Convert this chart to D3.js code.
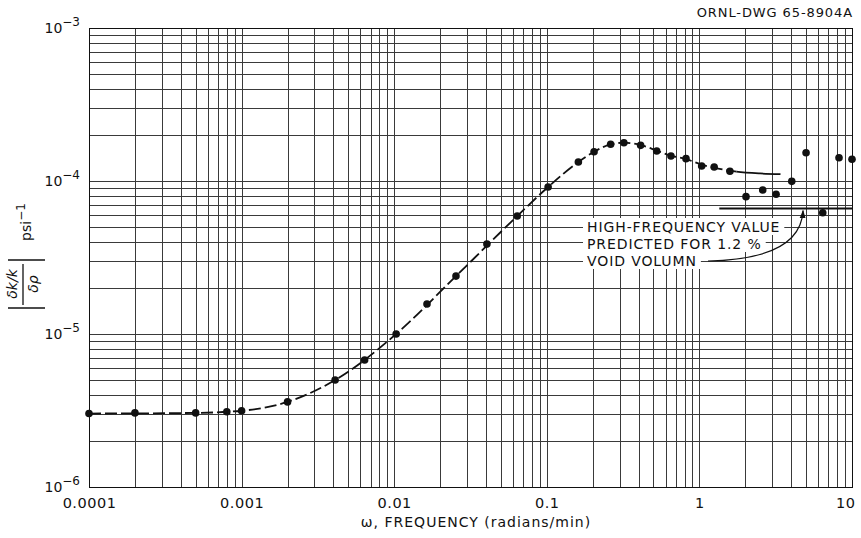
<!DOCTYPE html>
<html>
<head>
<meta charset="utf-8">
<script src="https://cdn.jsdelivr.net/npm/d3@7"></script>
<style>
  html, body { margin: 0; padding: 0; background: #fff; }
  svg { display: block; font-family: "DejaVu Sans", sans-serif; }
</style>
</head>
<body>
<svg id="chart" width="861" height="538"></svg>
<script>
// ---------------- data ----------------
const omega = [1e-4, 2e-4, 5e-4, 8e-4, 1e-3, 2e-3, 4.1e-3, 6.4e-3, 0.0103, 0.0164, 0.0254, 0.0405, 0.064, 0.102,
  0.161, 0.204, 0.262, 0.32, 0.412, 0.525, 0.651, 0.817, 1.035, 1.25, 1.585,
  2.02, 2.6, 3.18, 4.03, 5.0, 6.43, 8.22, 10.0];
const response = [3.02e-6, 3.05e-6, 3.05e-6, 3.1e-6, 3.15e-6, 3.6e-6, 5.0e-6, 6.76e-6, 1.0e-5, 1.57e-5, 2.39e-5, 3.87e-5, 5.9e-5, 9.14e-5,
  1.33e-4, 1.553e-4, 1.738e-4, 1.78e-4, 1.71e-4, 1.57e-4, 1.456e-4, 1.40e-4, 1.253e-4, 1.235e-4, 1.157e-4,
  7.9e-5, 8.73e-5, 8.19e-5, 9.95e-5, 1.53e-4, 6.2e-5, 1.42e-4, 1.387e-4];

// faired curve drawn through the measurements
const curveOmega = [1e-4, 5e-4, 1e-3, 2e-3, 4.1e-3, 0.0103, 0.0254, 0.064, 0.102, 0.161, 0.204, 0.262, 0.32, 0.412,
  0.525, 0.651, 0.817, 1.035, 1.3, 1.75, 2.5, 3.4];
const curveValue = [3.02e-6, 3.05e-6, 3.15e-6, 3.6e-6, 5.0e-6, 1.0e-5, 2.39e-5, 5.9e-5, 9.14e-5, 1.33e-4, 1.553e-4, 1.735e-4, 1.78e-4, 1.72e-4,
  1.58e-4, 1.465e-4, 1.39e-4, 1.28e-4, 1.21e-4, 1.15e-4, 1.12e-4, 1.11e-4];
const dashedUntil = 1.75;   // curve is dashed below this frequency, solid above

// predicted high-frequency value
const hfValue = 6.6e-5;
const hfRange = [1.35, 10];

const xTickValues = [1e-4, 1e-3, 1e-2, 1e-1, 1, 10];
const xTickLabels = ["0.0001", "0.001", "0.01", "0.1", "1", "10"];
const yTickValues = [1e-3, 1e-4, 1e-5, 1e-6];
const yTickExponents = ["\u22123", "\u22124", "\u22125", "\u22126"];

const noteLines = ["HIGH-FREQUENCY VALUE", "PREDICTED FOR 1.2 %", "VOID VOLUMN"];
const drawingNumber = "ORNL-DWG 65-8904A";
const xTitle = "\u03c9, FREQUENCY (radians/min)";

// ---------------- chart ----------------
const svg = d3.select("#chart");
const L = 89, R = 852, T = 28, B = 487;
const x = d3.scaleLog().domain([1e-4, 10]).range([L, R]);
const y = d3.scaleLog().domain([1e-6, 1e-3]).range([B, T]);

const ink = "#111";

// grid
const grid = svg.append("g").attr("shape-rendering", "crispEdges");
grid.selectAll("line.v").data(x.ticks()).join("line")
  .attr("x1", d => Math.round(x(d)) + 0.5).attr("x2", d => Math.round(x(d)) + 0.5)
  .attr("y1", T).attr("y2", B)
  .attr("stroke", "#3a3a3a").attr("stroke-width", 1);
grid.selectAll("line.h").data(y.ticks()).join("line")
  .attr("y1", d => Math.round(y(d)) + 0.5).attr("y2", d => Math.round(y(d)) + 0.5)
  .attr("x1", L).attr("x2", R)
  .attr("stroke", "#3a3a3a").attr("stroke-width", 1);
svg.append("rect").attr("x", L + 0.5).attr("y", T + 0.5).attr("width", R - L).attr("height", B - T)
  .attr("fill", "none").attr("stroke", ink).attr("stroke-width", 1.2).attr("shape-rendering", "crispEdges");

// x axis labels
const xAxis = d3.axisBottom(x).tickValues(xTickValues)
  .tickFormat((d, i) => xTickLabels[i]).tickSize(0).tickPadding(0);
const gx = svg.append("g").attr("transform", `translate(0,${B})`).call(xAxis);
gx.select(".domain").remove();
gx.selectAll("text").attr("y", 21).attr("dy", null)
  .attr("font-family", "DejaVu Sans").attr("font-size", 14.5).attr("letter-spacing", 0.5).attr("fill", ink);
gx.selectAll(".tick text").filter((d, i) => i === xTickValues.length - 1).attr("text-anchor", "end").attr("x", 3);

// y axis labels
const yl = svg.append("g");
yTickValues.forEach((v, i) => {
  const t = yl.append("text").attr("x", 80).attr("y", y(v) + 5)
    .attr("text-anchor", "end").attr("font-size", 14).attr("fill", ink);
  t.append("tspan").text("10");
  t.append("tspan").attr("dy", -7).attr("font-size", 12).text(yTickExponents[i]);
});

// x title
svg.append("text").attr("x", 476).attr("y", 527).attr("text-anchor", "middle")
  .attr("font-size", 14).attr("letter-spacing", 1.0).attr("fill", ink).text(xTitle);

// drawing number
svg.append("text").attr("x", 853).attr("y", 17).attr("text-anchor", "end")
  .attr("font-size", 13).attr("letter-spacing", 0.9).attr("fill", ink).text(drawingNumber);

// y title (rotated)
const yt = svg.append("g").attr("fill", ink);
function rtext(cx, cy, txt, size, style) {
  return yt.append("text").attr("transform", `translate(${cx},${cy}) rotate(-90)`)
    .attr("text-anchor", "middle").attr("font-size", size).attr("font-style", style || "normal").text(txt);
}
rtext(17, 284, "\u03b4k/k", 14, "italic");
rtext(38, 284, "\u03b4\u03c1", 14, "italic");
yt.append("line").attr("x1", 23).attr("x2", 23).attr("y1", 264).attr("y2", 305).attr("stroke", ink).attr("stroke-width", 1.3);
yt.append("line").attr("x1", 8).attr("x2", 45).attr("y1", 260).attr("y2", 260).attr("stroke", ink).attr("stroke-width", 1.3);
yt.append("line").attr("x1", 8).attr("x2", 45).attr("y1", 308).attr("y2", 308).attr("stroke", ink).attr("stroke-width", 1.3);
const psi = yt.append("text").attr("transform", `translate(31,${222}) rotate(-90)`)
  .attr("text-anchor", "middle").attr("font-size", 14);
psi.append("tspan").text("psi");
psi.append("tspan").attr("dy", -6).attr("font-size", 12).text("\u22121");

// faired curve
const lineGen = d3.line().x(d => x(d[0])).y(d => y(d[1])).curve(d3.curveMonotoneX);
const curveData = curveOmega.map((w, i) => [w, curveValue[i]]);
const defs = svg.append("defs");
defs.append("clipPath").attr("id", "clipDash").append("rect")
  .attr("x", L - 5).attr("y", 0).attr("width", x(dashedUntil) - L + 5).attr("height", 538);
defs.append("clipPath").attr("id", "clipSolid").append("rect")
  .attr("x", x(dashedUntil)).attr("y", 0).attr("width", R - x(dashedUntil) + 5).attr("height", 538);
svg.append("path").datum(curveData).attr("d", lineGen).attr("clip-path", "url(#clipDash)")
  .attr("fill", "none").attr("stroke", ink).attr("stroke-width", 1.8).attr("stroke-dasharray", "12,4");
svg.append("path").datum(curveData).attr("d", lineGen).attr("clip-path", "url(#clipSolid)")
  .attr("fill", "none").attr("stroke", ink).attr("stroke-width", 1.8);

// high-frequency line
svg.append("line").attr("x1", x(hfRange[0])).attr("x2", x(hfRange[1]))
  .attr("y1", y(hfValue)).attr("y2", y(hfValue)).attr("stroke", ink).attr("stroke-width", 2);

// annotation
const note = svg.append("g");
const noteY = [232, 249, 266];
noteLines.forEach((s, i) => {
  const bg = note.append("rect").attr("fill", "#fff");
  const t = note.append("text").attr("x", 587).attr("y", noteY[i]).attr("font-size", 14)
    .attr("letter-spacing", 0.9).attr("fill", ink).text(s);
  const bb = t.node().getBBox();
  bg.attr("x", bb.x - 4).attr("y", bb.y - 1).attr("width", bb.width + 8).attr("height", bb.height + 1);
});
defs.append("marker").attr("id", "arrow").attr("viewBox", "0 0 10 10").attr("refX", 9).attr("refY", 5)
  .attr("markerWidth", 7).attr("markerHeight", 7).attr("orient", "auto")
  .append("path").attr("d", "M0,1.5 L10,5 L0,8.5 Z").attr("fill", ink);
const tip = [x(5.0) - 3, y(hfValue) + 2];
note.append("path")
  .attr("d", `M708,261 C760,260 ${tip[0] - 2},248 ${tip[0]},${tip[1]}`)
  .attr("fill", "none").attr("stroke", ink).attr("stroke-width", 1.2).attr("marker-end", "url(#arrow)");

// data points
svg.append("g").selectAll("circle").data(omega).join("circle")
  .attr("cx", d => x(d)).attr("cy", (d, i) => y(response[i])).attr("r", 3.8).attr("fill", ink);
</script>
</body>
</html>
